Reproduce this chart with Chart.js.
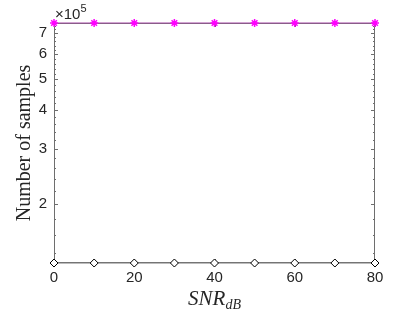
<!DOCTYPE html>
<html>
<head>
<meta charset="utf-8">
<script src="https://cdn.jsdelivr.net/npm/chart.js@4"></script>
<style>
  html, body { margin: 0; padding: 0; background: #fff; }
  #wrap { width: 415px; height: 312px; }
</style>
</head>
<body>
<div id="wrap"><canvas id="samplesChart" width="415" height="312"></canvas></div>
<script>
const snrDb = [0, 10, 20, 30, 40, 50, 60, 70, 80];
const samplesStar = [755000, 755000, 755000, 755000, 755000, 755000, 755000, 755000, 755000];
const samplesDiamond = [130000, 130000, 130000, 130000, 130000, 130000, 130000, 130000, 130000];
const yMajorTicks = [2e5, 3e5, 4e5, 5e5, 6e5, 7e5];
const yMinorTicks = [1.4e5, 1.6e5, 1.8e5, 2.2e5, 2.4e5, 2.6e5, 2.8e5, 3.2e5, 3.4e5, 3.6e5, 3.8e5,
  4.2e5, 4.4e5, 4.6e5, 4.8e5, 5.2e5, 5.4e5, 5.6e5, 5.8e5, 6.2e5, 6.4e5, 6.6e5, 6.8e5, 7.2e5, 7.4e5];
const xTicks = [0, 20, 40, 60, 80];

const axisColor = '#262626';

// box, inward ticks and the MATLAB-like labels
const matlabAxes = {
  id: 'matlabAxes',
  beforeDatasetsDraw(chart) {
    const { ctx, chartArea: a, scales } = chart;
    ctx.save();
    ctx.strokeStyle = '#6e6e6e';
    ctx.lineWidth = 1;
    ctx.strokeRect(a.left + 0.5, a.top + 0.5, a.right - a.left - 1, a.bottom - a.top - 1);
    ctx.beginPath();
    yMajorTicks.concat(yMinorTicks).forEach(function (v) {
      const y = Math.round(scales.y.getPixelForValue(v)) + 0.5;
      const len = yMajorTicks.includes(v) ? 4 : 2;
      ctx.moveTo(a.left, y); ctx.lineTo(a.left + len, y);
      ctx.moveTo(a.right, y); ctx.lineTo(a.right - len, y);
    });
    xTicks.forEach(function (v) {
      const x = Math.round(scales.x.getPixelForValue(v)) + 0.5;
      ctx.moveTo(x, a.bottom); ctx.lineTo(x, a.bottom - 4);
      ctx.moveTo(x, a.top); ctx.lineTo(x, a.top + 4);
    });
    ctx.stroke();
    ctx.restore();
  },
  afterDraw(chart) {
    const { ctx, chartArea: a } = chart;
    ctx.save();
    ctx.fillStyle = axisColor;
    ctx.textBaseline = 'alphabetic';
    // exponent
    ctx.font = '15px "Liberation Sans", Arial, sans-serif';
    ctx.textAlign = 'left';
    ctx.fillText('\u00d710', a.left + 1, a.top - 4);
    const w = ctx.measureText('\u00d710').width;
    ctx.font = '11px "Liberation Sans", Arial, sans-serif';
    ctx.fillText('5', a.left + 1 + w, a.top - 11);
    // x title
    ctx.font = 'italic 21px "Liberation Serif", "DejaVu Serif", serif';
    const w1 = ctx.measureText('SNR').width;
    ctx.font = 'italic 14px "Liberation Serif", "DejaVu Serif", serif';
    const w2 = ctx.measureText('dB').width;
    const x0 = (a.left + a.right) / 2 - (w1 + w2) / 2;
    ctx.font = 'italic 21px "Liberation Serif", "DejaVu Serif", serif';
    ctx.fillText('SNR', x0, 305);
    ctx.font = 'italic 14px "Liberation Serif", "DejaVu Serif", serif';
    ctx.fillText('dB', x0 + w1, 309);
    // y title
    ctx.translate(25, (a.top + a.bottom) / 2);
    ctx.rotate(-Math.PI / 2);
    ctx.textAlign = 'center';
    ctx.textBaseline = 'middle';
    ctx.font = '20px "Liberation Serif", "DejaVu Serif", serif';
    ctx.fillText('Number of samples', 0, 0);
    ctx.restore();
  }
};

document.addEventListener('DOMContentLoaded', function () {
  const ctx = document.getElementById('samplesChart').getContext('2d');

  new Chart(ctx, {
    type: 'line',
    data: {
      datasets: [
        {
          label: 'star',
          data: snrDb.map(function (x, i) { return { x: x, y: samplesStar[i] }; }),
          borderColor: '#a64aa6',
          borderWidth: 1,
          pointStyle: 'star',
          pointRadius: 4,
          pointBorderColor: '#ff00ff',
          pointBackgroundColor: '#ff00ff',
          pointBorderWidth: 1.5,
          clip: false
        },
        {
          label: 'diamond',
          data: snrDb.map(function (x, i) { return { x: x, y: samplesDiamond[i] }; }),
          borderColor: '#7a7a7a',
          borderWidth: 1,
          pointStyle: 'rectRot',
          pointRadius: 4,
          pointBorderColor: '#000000',
          pointBackgroundColor: '#ffffff',
          pointBorderWidth: 1,
          clip: false
        }
      ]
    },
    options: {
      responsive: false,
      animation: false,
      maintainAspectRatio: false,
      layout: { padding: { top: 23, right: 40, left: 0, bottom: 0 } },
      plugins: {
        legend: { display: false },
        tooltip: { enabled: false }
      },
      scales: {
        x: {
          type: 'linear',
          min: 0,
          max: 80,
          grid: { display: false, drawTicks: false },
          border: { display: false },
          afterBuildTicks: function (scale) {
            scale.ticks = xTicks.map(function (v) { return { value: v }; });
          },
          afterFit: function (scale) { scale.height = 49; },
          ticks: {
            padding: 6,
            color: axisColor,
            font: { family: '"Liberation Sans", Arial, sans-serif', size: 15 }
          }
        },
        y: {
          type: 'logarithmic',
          min: 130000,
          max: 755000,
          grid: { display: false, drawTicks: false },
          border: { display: false },
          afterBuildTicks: function (scale) {
            scale.ticks = yMajorTicks.map(function (v) { return { value: v }; });
          },
          afterFit: function (scale) { scale.width = 54; },
          ticks: {
            padding: 7,
            color: axisColor,
            font: { family: '"Liberation Sans", Arial, sans-serif', size: 15 },
            callback: function (value) { return String(value / 1e5); }
          }
        }
      }
    },
    plugins: [matlabAxes]
  });
});
</script>
</body>
</html>
